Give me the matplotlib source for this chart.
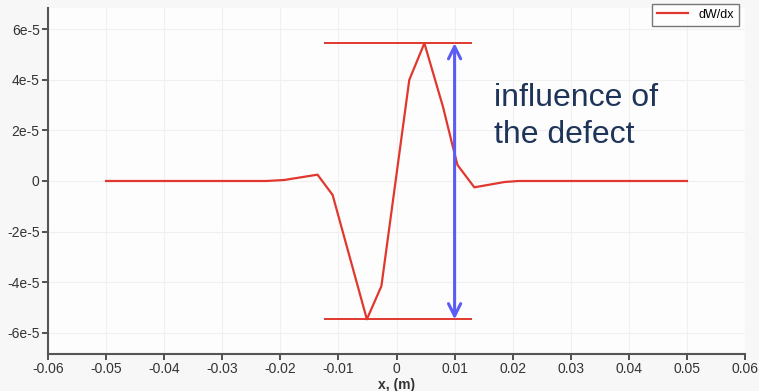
import matplotlib.pyplot as plt
from matplotlib.ticker import FixedLocator

plt.rcParams['font.family'] = ['Liberation Sans Narrow', 'Liberation Sans', 'DejaVu Sans']

# dW/dx profile
x_vals = [-0.05, -0.0224, -0.0193, -0.0136, -0.011, -0.0051, -0.0026, 0.0022,
          0.0048, 0.008, 0.0097, 0.0105, 0.0134, 0.0186, 0.021, 0.05]
dwdx = [0.0, 0.0, 0.4e-6, 2.5e-6, -5.5e-6, -5.46e-5, -4.15e-5, 3.99e-5,
        5.44e-5, 2.93e-5, 1.35e-5, 6.3e-6, -2.5e-6, -0.4e-6, 0.0, 0.0]

y_ticks = [-6e-5, -4e-5, -2e-5, 0, 2e-5, 4e-5, 6e-5]
y_labels = ['-6e-5', '-4e-5', '-2e-5', '0', '2e-5', '4e-5', '6e-5']
x_ticks = [-0.06, -0.05, -0.04, -0.03, -0.02, -0.01, 0, 0.01, 0.02, 0.03, 0.04, 0.05, 0.06]
x_labels = ['-0.06', '-0.05', '-0.04', '-0.03', '-0.02', '-0.01', '0',
            '0.01', '0.02', '0.03', '0.04', '0.05', '0.06']

# annotation extent
peak_max = 5.44e-5
peak_min = -5.46e-5
bracket_x = (-0.0125, 0.013)
arrow_x = 0.01

red = '#e0382e'
blue = '#5b5cf5'

fig = plt.figure(figsize=(7.59, 3.91), dpi=100, facecolor='#f7f7f7')
ax = fig.add_axes([0.0632, 0.0946, 0.9184, 0.885])
ax.set_facecolor('#fdfdfd')

ax.plot(x_vals, dwdx, color=red, lw=1.6, label='dW/dx')

# horizontal limits and the double arrow
ax.hlines([peak_max, peak_min], bracket_x[0], bracket_x[1], color=red, lw=1.4)
ax.annotate('', xy=(arrow_x, peak_max), xytext=(arrow_x, peak_min),
            arrowprops=dict(arrowstyle='<->', color=blue, lw=2.2,
                            mutation_scale=22, shrinkA=0, shrinkB=0))
ax.text(0.0167, 2.55e-5, 'influence of\nthe defect', fontsize=23,
        color='#1e3559', family=['Liberation Sans', 'DejaVu Sans'],
        va='center', ha='left', linespacing=1.3)

ax.set_xlim(-0.06, 0.06)
ax.set_ylim(-6.83e-5, 6.83e-5)
ax.xaxis.set_major_locator(FixedLocator(x_ticks))
ax.yaxis.set_major_locator(FixedLocator(y_ticks))
ax.set_xticklabels(x_labels)
ax.set_yticklabels(y_labels)
ax.tick_params(labelsize=10, colors='#333333', length=4, width=1.2, pad=2)
ax.grid(True, color='#f0f0f0', lw=0.8)
ax.set_axisbelow(True)

for side in ['top', 'right']:
    ax.spines[side].set_visible(False)
for side in ['left', 'bottom']:
    ax.spines[side].set_color('#555555')
    ax.spines[side].set_linewidth(1.5)

ax.set_xlabel('x, (m)', fontsize=10, fontweight='bold', color='#333333', labelpad=1)

leg = ax.legend(loc='upper right', fontsize=9, frameon=True, fancybox=False,
                handlelength=2.5, borderpad=0.4, bbox_to_anchor=(1.0, 1.03))
leg.get_frame().set_edgecolor('#555555')
leg.get_frame().set_linewidth(1.0)

fig.savefig('out.png', dpi=100, facecolor=fig.get_facecolor())
